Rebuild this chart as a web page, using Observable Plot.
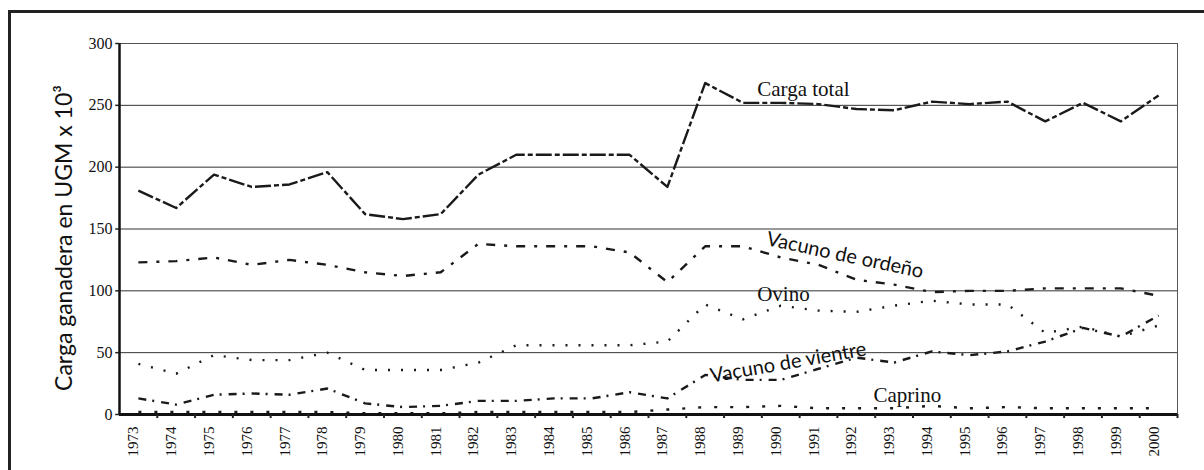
<!DOCTYPE html>
<html>
<head>
<meta charset="utf-8">
<script src="https://cdn.jsdelivr.net/npm/d3@7"></script>
<script src="https://cdn.jsdelivr.net/npm/@observablehq/plot@0.6"></script>
<style>
  html, body { margin: 0; padding: 0; background: #fff; overflow: hidden; width: 1204px; height: 470px; }
  #frame { position: absolute; left: 8px; top: 10px; width: 1400px; height: 700px;
           border-top: 3px solid #222; border-left: 3px solid #222; }
  #chart { position: absolute; left: 0; top: 0; }
</style>
</head>
<body>
<div id="frame"></div>
<div id="chart"></div>
<script>
// ---- data ----
const years = [1973,1974,1975,1976,1977,1978,1979,1980,1981,1982,1983,1984,1985,1986,
               1987,1988,1989,1990,1991,1992,1993,1994,1995,1996,1997,1998,1999,2000];
const cargaTotal = [181,167,194,184,186,196,162,158,162,194,210,210,210,210,
                    184,268,252,252,251,247,246,253,251,253,237,252,237,258];
const vacunoOrdeno = [123,124,127,121,125,121,115,112,115,138,136,136,136,131,
                      107,136,136,127,121,109,105,99,100,100,102,102,102,96];
const ovino = [41,33,48,44,44,50,36,36,36,42,56,56,56,56,
               59,89,77,88,84,83,88,92,89,89,66,71,63,72];
const vacunoVientre = [13,8,16,17,16,21,9,6,7,11,11,13,13,18,
                       13,32,28,28,37,46,42,51,48,51,59,70,63,80];
const caprino = [2,2,2,2,2,2,1,1,1,2,2,2,2,2,
                 4,6,6,7,5,5,5,7,5,6,5,5,5,5];
const yTicks = [0,50,100,150,200,250,300];
const yLabel = "Carga ganadera en UGM x 10³";

const seriesNames = ["Carga total","Vacuno de ordeño","Ovino","Vacuno de vientre","Caprino"];
const seriesValues = [cargaTotal, vacunoOrdeno, ovino, vacunoVientre, caprino];
const seriesDash = ["16,3,5,3", "9,9,3,9", "2,11", "8,6,2,7", "3,13"];

// label annotations
const labelText = ["Carga total","Vacuno de ordeño","Ovino","Vacuno de vientre","Caprino"];
const labelX = [1990.6, 1991.7, 1990.07, 1990.2, 1993.35];
const labelY = [263, 128.7, 97.5, 42, 15.5];
const labelRot = [0, 12, 0, -10, 0];
const labelFont = ["Liberation Serif","Lato","Liberation Serif","Lato","Liberation Serif"];

// ---- build tables ----
const rows = [];
seriesNames.forEach((name, i) => {
  years.forEach((yr, j) => rows.push({series: name, year: yr, value: seriesValues[i][j]}));
});
const labels = labelText.map((t, i) => ({text: t, x: labelX[i], y: labelY[i], rotate: labelRot[i], font: labelFont[i]}));
const boundaries = years.map(y => y + 0.5);
const xMin = years[0] - 0.5, xMax = years[years.length - 1] + 0.5;

const marks = [
  Plot.gridY(yTicks.filter(d => d > 0 && d < 300), {stroke: "#333", strokeOpacity: 1, strokeWidth: 1}),
  Plot.frame({stroke: "#555", strokeWidth: 1})
];
seriesNames.forEach((name, i) => {
  marks.push(Plot.line(rows.filter(r => r.series === name), {
    x: "year", y: "value", stroke: "#1a1a1a", strokeWidth: 2.4,
    strokeDasharray: seriesDash[i], strokeLinecap: "butt", curve: "linear"
  }));
});
marks.push(
  Plot.ruleX([xMin], {stroke: "#111", strokeWidth: 2.5}),
  Plot.ruleY([0], {stroke: "#111", strokeWidth: 3.2}),
  Plot.ruleX(boundaries, {y1: 0, y2: -3.3, stroke: "#222", strokeWidth: 2}),
  Plot.ruleY(yTicks, {x1: xMin - 0.1, x2: xMin, stroke: "#222", strokeWidth: 1.5}),
  Plot.text(yTicks, {y: d => d, frameAnchor: "left", text: d => String(d), textAnchor: "end",
                     dx: -7, fontSize: 16, fontFamily: "Liberation Serif", fill: "#111"}),
  Plot.text(years, {x: d => d, frameAnchor: "bottom", text: d => String(d), rotate: -90,
                    textAnchor: "end", dy: 12, fontSize: 15, fontFamily: "Liberation Serif", fill: "#111"}),
  Plot.text([yLabel], {frameAnchor: "left", text: d => d, rotate: -90, textAnchor: "middle",
                       dx: -55, dy: 9, fontSize: 23, fontFamily: "Lato", fill: "#111"}),
  Plot.text(labels.filter(d => d.font === "Lato"), {x: "x", y: "y", text: "text", rotate: "rotate",
                       textAnchor: "middle", fontSize: 20, fontFamily: "Lato", fill: "#111"}),
  Plot.text(labels.filter(d => d.font !== "Lato"), {x: "x", y: "y", text: "text", rotate: "rotate",
                       textAnchor: "middle", fontSize: 21, fontFamily: "Liberation Serif", fill: "#111"})
);

const chart = Plot.plot({
  width: 1204, height: 470,
  marginLeft: 119, marginRight: 27, marginTop: 43, marginBottom: 56,
  x: {domain: [xMin, xMax], axis: null},
  y: {domain: [0, 300], axis: null},
  style: {background: "transparent", fontFamily: "Liberation Serif", overflow: "visible"},
  marks
});
document.getElementById("chart").appendChild(chart);
</script>
</body>
</html>
